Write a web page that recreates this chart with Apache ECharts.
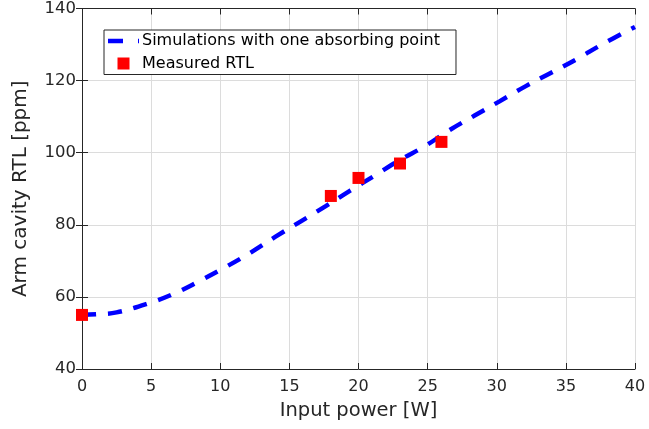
<!DOCTYPE html>
<html><head><meta charset="utf-8">
<script src="https://cdn.jsdelivr.net/npm/echarts@6/dist/echarts.min.js"></script>
<style>html,body{margin:0;padding:0;background:#fff}#c{width:649px;height:429px}</style>
</head><body><div id="c"></div>
<script>
var simX = [0, 1.2, 2.5, 4.65, 6.6, 8.5, 10.4, 12.2, 14.0, 15.8, 17.6, 19.4, 21.15, 23.0, 24.8, 26.6, 28.4, 30.2, 32.07, 33.9, 35.8, 37.6, 40];
var simY = [55, 55.2, 55.7, 58.0, 60.8, 64.4, 68.3, 72.3, 76.7, 80.9, 85.1, 89.5, 93.6, 98.0, 101.8, 106.3, 110.3, 114.25, 118.4, 122.1, 126.0, 130.0, 134.9];
var measX = [0, 18, 20, 23, 26];
var measY = [55, 88, 93, 97, 103];
var xTicks = [0, 5, 10, 15, 20, 25, 30, 35, 40];
var yTicks = [40, 60, 80, 100, 120, 140];
var simName = 'Simulations with one absorbing point';
var measName = 'Measured RTL';

var font = 'DejaVu Sans';
var dark = '#262626';
var chart = echarts.init(document.getElementById('c'));
var sim = simX.map(function(x, i){ return [x, simY[i]]; });
var meas = measX.map(function(x, i){ return [x, measY[i]]; });
var baseX = {type:'value', min:xTicks[0], max:xTicks[xTicks.length-1], interval:5};
var baseY = {type:'value', min:yTicks[0], max:yTicks[yTicks.length-1], interval:20};
chart.setOption({
  animation:false,
  grid:{left:82, right:14, top:8, bottom:60, containLabel:false},
  legend:{
    left:104, top:30, orient:'vertical', itemGap:4.5, padding:[2,16,2,4],
    borderColor:dark, borderWidth:1, borderRadius:0, backgroundColor:'#fff',
    itemWidth:31, itemHeight:12, symbolKeepAspect:true,
    textStyle:{fontFamily:font, fontSize:16, lineHeight:18, color:'#000', padding:[0,0,0,-2]},
    data:[
      {name:simName, icon:'path://M0,0L15,0L15,4.5L0,4.5Z M30,0L31,0L31,4.5L30,4.5Z', itemStyle:{color:'#0000ff', opacity:1}},
      {name:measName, icon:'path://M0,0L1,0L1,1L0,1Z', itemStyle:{color:'#ff0000', opacity:1}}
    ]
  },
  xAxis:[
    Object.assign({}, baseX, {position:'bottom',
      name:'Input power [W]', nameLocation:'middle', nameGap:32,
      nameTextStyle:{fontFamily:font, fontSize:19.5, color:dark},
      axisLine:{lineStyle:{color:dark, width:1}},
      axisTick:{inside:true, length:6, lineStyle:{color:dark}},
      axisLabel:{fontFamily:font, fontSize:16, color:dark, margin:10},
      splitLine:{show:true, lineStyle:{color:'#dcdcdc', width:1}}}),
    Object.assign({}, baseX, {position:'top',
      axisLine:{lineStyle:{color:dark, width:1}},
      axisTick:{inside:true, length:6, lineStyle:{color:dark}},
      axisLabel:{show:false}, splitLine:{show:false}})
  ],
  yAxis:[
    Object.assign({}, baseY, {position:'left',
      name:'Arm cavity RTL [ppm]', nameLocation:'middle', nameGap:51, nameRotate:90,
      nameTextStyle:{fontFamily:font, fontSize:20, color:dark},
      axisLine:{show:true, lineStyle:{color:dark, width:1}},
      axisTick:{show:true, inside:true, length:6, lineStyle:{color:dark}},
      axisLabel:{fontFamily:font, fontSize:16.5, color:dark, margin:6},
      splitLine:{show:true, lineStyle:{color:'#dcdcdc', width:1}}}),
    Object.assign({}, baseY, {position:'right',
      axisLine:{show:true, lineStyle:{color:dark, width:1}},
      axisTick:{show:true, inside:true, length:6, lineStyle:{color:dark}},
      axisLabel:{show:false}, splitLine:{show:false}})
  ],
  series:[
    {name:simName, type:'line', data:sim, smooth:0.4, symbol:'none', z:2,
     itemStyle:{color:'#0000ff'},
     lineStyle:{color:'#0000ff', width:4.5, type:[14,12], cap:'butt'}},
    {name:measName, type:'scatter', data:meas, symbol:'rect', symbolSize:12, z:3,
     itemStyle:{color:'#ff0000', opacity:1}}
  ]
});
</script></body></html>
